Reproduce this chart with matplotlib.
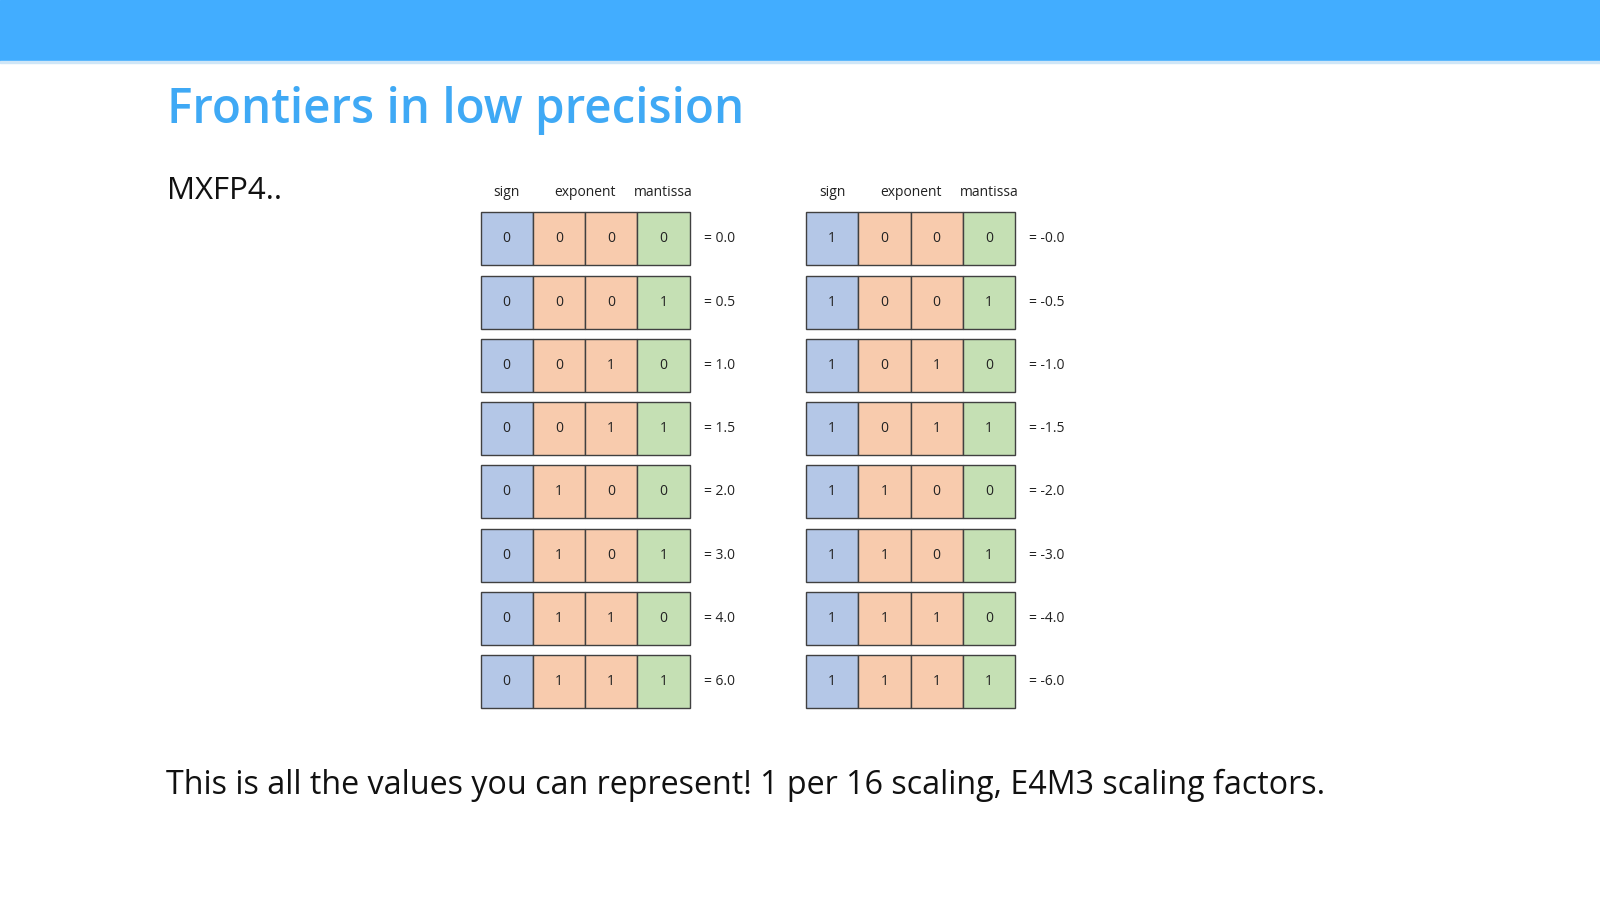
import matplotlib
matplotlib.use("Agg")
import matplotlib.pyplot as plt
from matplotlib.patches import Rectangle

plt.rcParams['font.family'] = ['Open Sans', 'DejaVu Sans']

headers = ["sign", "exponent", "mantissa"]
pos_bits = ["0000", "0001", "0010", "0011", "0100", "0101", "0110", "0111"]
neg_bits = ["1000", "1001", "1010", "1011", "1100", "1101", "1110", "1111"]
pos_vals = ["0.0", "0.5", "1.0", "1.5", "2.0", "3.0", "4.0", "6.0"]
neg_vals = ["-0.0", "-0.5", "-1.0", "-1.5", "-2.0", "-3.0", "-4.0", "-6.0"]
cell_colors = ["#B4C7E7", "#F8CBAD", "#F8CBAD", "#C5E0B4"]

S = 1600 / 1568
fig = plt.figure(figsize=(16, 9.01), dpi=100)
ax = fig.add_axes([0, 0, 1, 1])
ax.set_xlim(0, 1568)
ax.set_ylim(883, 0)
ax.axis("off")

ax.add_patch(Rectangle((0, 0), 1568, 60, color="#42ADFF", zorder=1))
ax.add_patch(Rectangle((0, 60), 1568, 2, color="#CFE6F7", zorder=1))
ax.text(164, 108, "Frontiers in low precision", color="#3FA9F5", fontsize=34.3,
        fontweight="semibold", va="center", ha="left")
ax.text(164, 187, "MXFP4..", fontsize=22.5, va="center", ha="left", color="#111111")
ax.text(163, 770, "This is all the values you can represent! 1 per 16 scaling, E4M3 scaling factors.",
        fontsize=23.2, va="center", ha="left", color="#111111")

cw, ch, gap = 51.2, 52, 62
for x0, bits, vals in [(471, pos_bits, pos_vals), (790, neg_bits, neg_vals)]:
    for hx, h in zip([x0 + cw / 2, x0 + 2 * cw, x0 + 3.5 * cw], headers):
        ax.text(hx, 189, h, fontsize=10, ha="center", va="center", color="#222222")
    for r, (b, v) in enumerate(zip(bits, vals)):
        yc = 234 + r * gap
        for c, ch_ in enumerate(b):
            ax.add_patch(Rectangle((x0 + c * cw, yc - ch / 2), cw, ch,
                                   facecolor=cell_colors[c], edgecolor="#404040", lw=1.0))
            ax.text(x0 + c * cw + cw / 2, yc, ch_, fontsize=10, ha="center", va="center", color="#222222")
        ax.text(x0 + 4 * cw + 14, yc, "= " + v, fontsize=10, ha="left", va="center", color="#222222")

fig.savefig("out.png", dpi=100)
